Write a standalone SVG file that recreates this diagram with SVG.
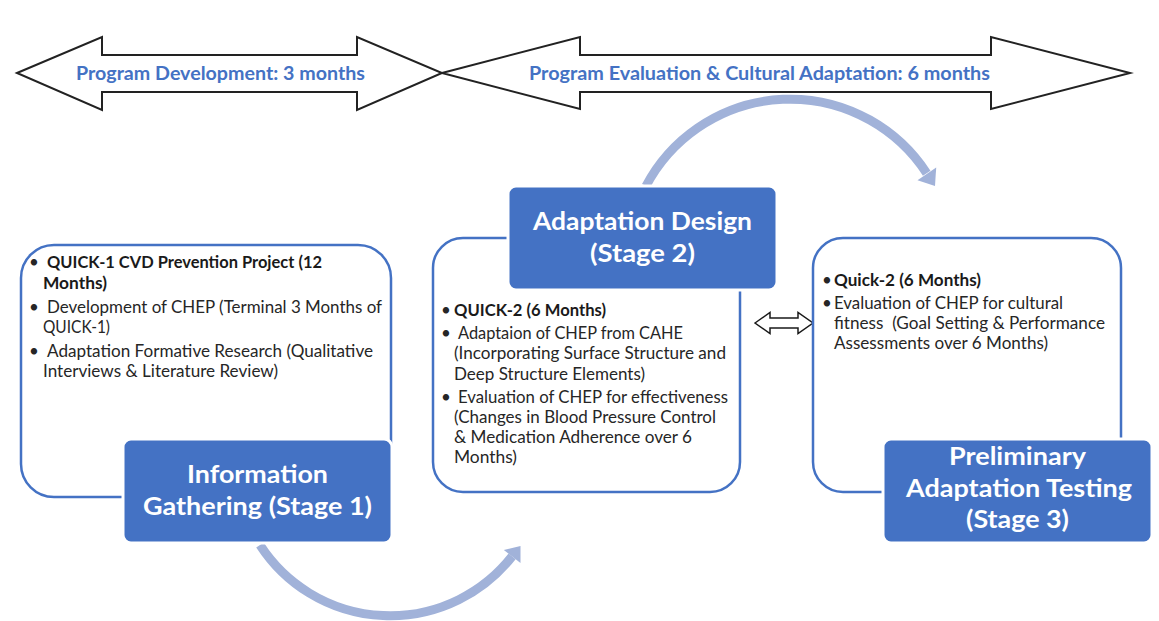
<svg xmlns="http://www.w3.org/2000/svg" width="1159" height="621" viewBox="0 0 1159 621">
<style>
.tl{fill:#fff;stroke:#222;stroke-width:2;stroke-linejoin:miter}
.tlab{font-family:Lato,"Open Sans",sans-serif;font-weight:700;font-size:19.5px;fill:#4472C4}
.outline{fill:none;stroke:#4472C4;stroke-width:2.5}
.box{fill:#4472C4;stroke:#fff;stroke-width:3}
.title{font-family:Lato,"Open Sans",sans-serif;font-weight:700;font-size:25px;fill:#fff}
.body{font-family:Lato,"Open Sans",sans-serif;font-size:17px;fill:#262626}
.b{font-weight:700;fill:#1a1a1a}
.bul{font-family:Lato,"Open Sans",sans-serif;font-size:17px;fill:#262626;text-anchor:middle}
.arc{fill:none;stroke:#A1B2D9;stroke-width:9}
.arch{fill:#A1B2D9}
.dbl{fill:#fff;stroke:#1a1a1a;stroke-width:1.5}
</style>
<rect width="1159" height="621" fill="#fff"/>

<g id="timeline">
  <g id="timeline-development">
    <polygon class="tl" points="17,73 102,37 102,55 357,55 357,37 442,73 357,110 357,92 102,92 102,110"/>
    <text class="tlab" x="76" y="80" textLength="289" lengthAdjust="spacingAndGlyphs">Program Development: 3 months</text>
  </g>
  <g id="timeline-evaluation">
    <polygon class="tl" points="442,73 580,37 580,55 991,55 991,37 1130,73 991,109 991,92 580,92 580,109"/>
    <text class="tlab" x="529" y="80" textLength="461" lengthAdjust="spacingAndGlyphs">Program Evaluation &amp; Cultural Adaptation: 6 months</text>
  </g>
</g>

<g id="connectors">
  <path class="arc" d="M 646,186 A 163 163 0 0 1 926.7,173.2"/>
  <polygon class="arch" points="935,186 936.2,167.5 917.5,180.3"/>
  <path class="arc" d="M 260,545 A 155 155 0 0 0 512.1,556.4"/>
  <polygon class="arch" points="520.5,546 520.5,563 503.8,550"/>
  <polygon class="dbl" points="755,323 770,312.5 770,318 798,318 798,312.5 813,323 798,333.5 798,328 770,328 770,333.5"/>
</g>

<g id="stage1">
  <rect class="outline" x="21" y="245" width="370" height="252" rx="33"/>
  <text class="bul" x="34" y="268">•</text>
  <text class="body b" x="47" y="268" textLength="275" lengthAdjust="spacingAndGlyphs">QUICK-1 CVD Prevention Project (12</text>
  <text class="body b" x="43" y="289" textLength="64" lengthAdjust="spacingAndGlyphs">Months)</text>
  <text class="bul" x="34" y="313">•</text>
  <text class="body" x="47" y="313" textLength="335" lengthAdjust="spacingAndGlyphs">Development of CHEP (Terminal 3 Months of</text>
  <text class="body" x="43" y="333" textLength="67" lengthAdjust="spacingAndGlyphs">QUICK-1)</text>
  <text class="bul" x="34" y="357">•</text>
  <text class="body" x="47" y="357" textLength="326" lengthAdjust="spacingAndGlyphs">Adaptation Formative Research (Qualitative</text>
  <text class="body" x="43" y="377" textLength="235" lengthAdjust="spacingAndGlyphs">Interviews &amp; Literature Review)</text>
  <rect class="box" x="123" y="439" width="269" height="104" rx="8"/>
  <text class="title" x="187" y="483" textLength="141" lengthAdjust="spacingAndGlyphs">Information</text>
  <text class="title" x="143" y="515" textLength="229" lengthAdjust="spacingAndGlyphs">Gathering (Stage 1)</text>
</g>

<g id="stage2">
  <rect class="outline" x="433" y="238" width="307" height="254" rx="30"/>
  <rect class="box" x="508" y="186" width="269" height="104" rx="8"/>
  <text class="title" x="533" y="230" textLength="219" lengthAdjust="spacingAndGlyphs">Adaptation Design</text>
  <text class="title" x="590" y="262" textLength="105" lengthAdjust="spacingAndGlyphs">(Stage 2)</text>
  <text class="bul" x="446" y="316">•</text>
  <text class="body b" x="454" y="316" textLength="152" lengthAdjust="spacingAndGlyphs">QUICK-2 (6 Months)</text>
  <text class="bul" x="446" y="339">•</text>
  <text class="body" x="458" y="339" textLength="225" lengthAdjust="spacingAndGlyphs">Adaptaion of CHEP from CAHE</text>
  <text class="body" x="454" y="359" textLength="272" lengthAdjust="spacingAndGlyphs">(Incorporating Surface Structure and</text>
  <text class="body" x="454" y="380" textLength="191" lengthAdjust="spacingAndGlyphs">Deep Structure Elements)</text>
  <text class="bul" x="446" y="403">•</text>
  <text class="body" x="458" y="403" textLength="270" lengthAdjust="spacingAndGlyphs">Evaluation of CHEP for effectiveness</text>
  <text class="body" x="454" y="423" textLength="262" lengthAdjust="spacingAndGlyphs">(Changes in Blood Pressure Control</text>
  <text class="body" x="454" y="443" textLength="238" lengthAdjust="spacingAndGlyphs">&amp; Medication Adherence over 6</text>
  <text class="body" x="454" y="463" textLength="63" lengthAdjust="spacingAndGlyphs">Months)</text>
</g>

<g id="stage3">
  <rect class="outline" x="813" y="238" width="308" height="254" rx="30"/>
  <text class="bul" x="827" y="286">•</text>
  <text class="body b" x="834" y="286" textLength="147" lengthAdjust="spacingAndGlyphs">Quick-2 (6 Months)</text>
  <text class="bul" x="827" y="309">•</text>
  <text class="body" x="834" y="309" textLength="229" lengthAdjust="spacingAndGlyphs">Evaluation of CHEP for cultural</text>
  <text class="body" x="834" y="329" textLength="271" lengthAdjust="spacingAndGlyphs" xml:space="preserve">fitness  (Goal Setting &amp; Performance</text>
  <text class="body" x="834" y="349" textLength="214" lengthAdjust="spacingAndGlyphs">Assessments over 6 Months)</text>
  <rect class="box" x="883" y="439" width="269" height="104" rx="8"/>
  <text class="title" x="949" y="465" textLength="137" lengthAdjust="spacingAndGlyphs">Preliminary</text>
  <text class="title" x="906" y="497" textLength="226" lengthAdjust="spacingAndGlyphs">Adaptation Testing</text>
  <text class="title" x="966" y="528" textLength="103" lengthAdjust="spacingAndGlyphs">(Stage 3)</text>
</g>
</svg>
